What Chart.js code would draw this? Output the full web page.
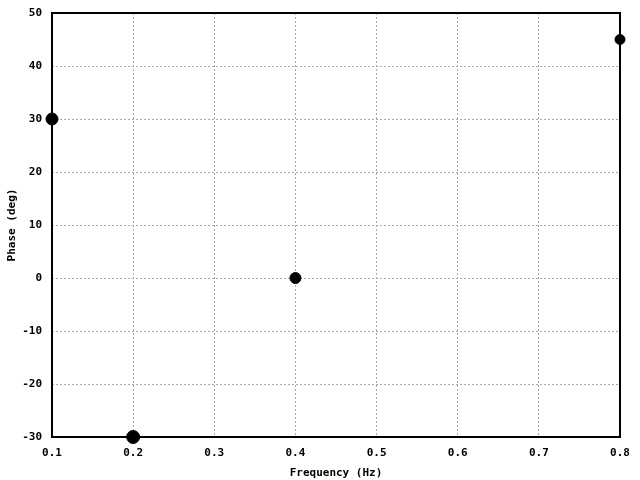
<!DOCTYPE html>
<html>
<head>
<meta charset="utf-8">
<script src="https://cdn.jsdelivr.net/npm/chart.js@4"></script>
<style>
  html, body { margin: 0; padding: 0; background: #fff; }
  #wrap { width: 640px; height: 480px; }
</style>
</head>
<body>
<div id="wrap"><canvas id="phase" width="640" height="480"></canvas></div>
<script>
// data
var freq = [0.1, 0.2, 0.4, 0.8];
var phase = [30, -30, 0, 45];
var xTicks = [0.1, 0.2, 0.3, 0.4, 0.5, 0.6, 0.7, 0.8];
var yTicks = [-30, -20, -10, 0, 10, 20, 30, 40, 50];

var pts = freq.map((f, i) => ({ x: f, y: phase[i] }));
var monoFont = { family: 'DejaVu Sans Mono', size: 11, weight: 'bold' };

// gnuplot style frame round the plot
const frame = {
    id: 'frame',
    afterDatasetsDraw(chart) {
        const a = chart.chartArea, c = chart.ctx;
        c.save();
        c.strokeStyle = '#000';
        c.lineWidth = 2;
        c.strokeRect(a.left, a.top, a.right - a.left, a.bottom - a.top);
        c.restore();
    }
};

const ctx = document.getElementById('phase');
const chart = new Chart(ctx, {
    type: 'scatter',
    data: {
        datasets: [{
            data: pts,
            backgroundColor: '#000',
            borderColor: '#000',
            pointRadius: [6, 6.5, 5.5, 5],
            clip: false
        }]
    },
    options: {
        responsive: false,
        animation: false,
        layout: { padding: { top: 13, right: 20, left: 0, bottom: 0 } },
        plugins: { legend: { display: false }, tooltip: { enabled: false } },
        scales: {
            x: {
                type: 'linear',
                min: 0.1, max: 0.8,
                afterBuildTicks: s => { s.ticks = xTicks.map(v => ({ value: v })); },
                afterFit: s => { s.height = 43; s.paddingLeft = 0; s.paddingRight = 0; },
                grid: { color: '#a8a8a8', tickLength: 0, drawTicks: false },
                border: { display: false, dash: [2, 2] },
                ticks: {
                    color: '#000', font: monoFont, padding: 10, maxRotation: 0,
                    callback: v => v.toFixed(1)
                },
                title: { display: true, text: 'Frequency (Hz)', color: '#000', font: monoFont, padding: { top: 2, bottom: 0 } }
            },
            y: {
                min: -30, max: 50,
                afterBuildTicks: s => { s.ticks = yTicks.map(v => ({ value: v })); },
                afterFit: s => { s.width = 52; s.paddingTop = 0; s.paddingBottom = 0; },
                grid: { color: '#a8a8a8', drawTicks: false },
                border: { display: false, dash: [2, 2] },
                ticks: { color: '#000', font: monoFont, padding: 10 },
                title: { display: true, text: 'Phase (deg)', color: '#000', font: monoFont, padding: { top: 6, bottom: 2 } }
            }
        }
    },
    plugins: [frame]
});
</script>
</body>
</html>
